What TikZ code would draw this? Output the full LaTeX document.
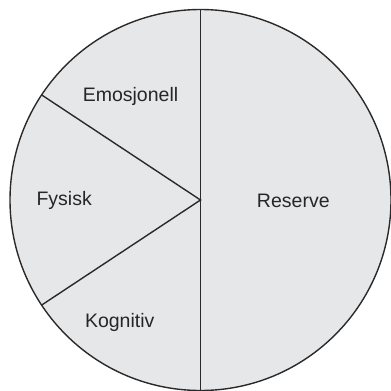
\documentclass[tikz,border=0pt]{standalone}
\usepackage{fontspec}
\setmainfont{Liberation Sans}
\definecolor{wedge}{HTML}{E6E7E9}
\definecolor{edge}{HTML}{2A2A2A}
\begin{document}
\begin{tikzpicture}[x=1pt,y=-1pt,
  lbl/.style={font=\fontsize{19.5}{22}\selectfont, text=black!85, anchor=base, inner sep=0pt},
  rim/.style={draw=edge, line width=1.4pt}]
\useasboundingbox (0,0) rectangle (391,391);
\coordinate (c) at (200.5,200);
\fill[wedge] (c) circle[radius=190.5];
\coordinate (top) at (200.5,9.5);
\coordinate (bot) at (200.5,390.5);
\path (c) ++(-158.9,-105.1) coordinate (ul);
\path (c) ++(-158.9,105.1) coordinate (ll);
\draw[rim] (c) circle[radius=190.5];
\draw[rim] (top) -- (bot);
\draw[rim] (ul) -- (c) -- (ll);
\node[lbl] (res) at (293.3,207.7) {Reserve};
\node[lbl] (emo) at (130.5,101.7) {Emosjonell};
\node[lbl] (fys) at (64.2,205.7) {Fysisk};
\node[lbl] (kog) at (119.7,327.3) {Kognitiv};
\end{tikzpicture}
\end{document}
